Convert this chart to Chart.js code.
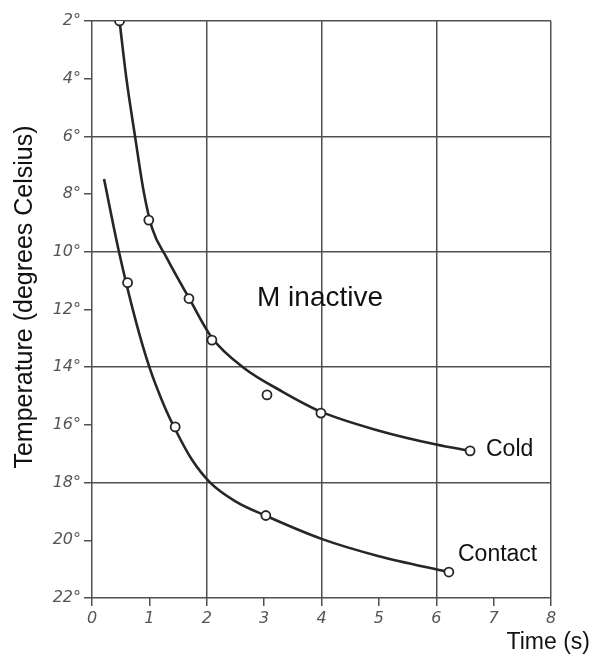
<!DOCTYPE html>
<html>
<head>
<meta charset="utf-8">
<script src="https://cdn.jsdelivr.net/npm/chart.js@4/dist/chart.umd.min.js"></script>
<style>
  html, body { margin: 0; padding: 0; background: #fff; }
  #wrap { width: 591px; height: 657px; }
</style>
</head>
<body>
<div id="wrap"><canvas id="myChart" width="591" height="657"></canvas></div>
<script>
// measured points (open circles)
const coldTime = [0.48, 0.99, 1.69, 2.09, 3.05, 3.99, 6.59];
const coldTemp = [2.0, 8.9, 11.62, 13.06, 14.96, 15.59, 16.9];
const contactTime = [0.62, 1.45, 3.03, 6.22];
const contactTemp = [11.07, 16.07, 19.14, 21.1];

// hand-fitted curves
const coldCurveTime = [0.48, 0.6, 0.75, 0.9, 1.05, 1.3, 1.69, 2.09, 2.63, 3.33, 4.0, 5.0, 6.0, 6.59];
const coldCurveTemp = [2.0, 4.0, 6.0, 7.9, 9.2, 10.2, 11.6, 12.98, 14.0, 14.86, 15.55, 16.2, 16.68, 16.9];
const contactCurveTime = [0.21, 0.47, 0.75, 1.0, 1.25, 1.45, 1.74, 2.06, 2.5, 3.03, 4.0, 5.0, 6.22];
const contactCurveTemp = [7.48, 10.0, 12.3, 14.0, 15.3, 16.15, 17.2, 18.0, 18.65, 19.15, 19.95, 20.55, 21.1];

const xTicks = [0, 1, 2, 3, 4, 5, 6, 7, 8];
const yTicks = [2, 4, 6, 8, 10, 12, 14, 16, 18, 20, 22];

const toXY = (xs, ys) => xs.map((x, i) => ({ x: x, y: ys[i] }));

const INK = '#262626';
const GRID = '#505050';
const tickFont = { family: 'DejaVu Sans', style: 'italic', size: 16 };

const textPlugin = {
    id: 'texts',
    afterDraw(chart) {
        const c = chart.ctx;
        c.save();
        c.fillStyle = '#111';
        c.textBaseline = 'middle';
        c.textAlign = 'left';
        c.font = '28px "Liberation Sans", Arial, sans-serif';
        c.fillText('M inactive', 257, 298);
        c.font = '23px "Liberation Sans", Arial, sans-serif';
        c.fillText('Cold', 486, 450);
        c.fillText('Contact', 458, 555);
        c.textAlign = 'right';
        c.fillText('Time (s)', 590, 643);
        c.translate(25, 297);
        c.rotate(-Math.PI / 2);
        c.textAlign = 'center';
        c.font = '25px "Liberation Sans", Arial, sans-serif';
        c.fillText('Temperature (degrees Celsius)', 0, 0);
        c.restore();
    }
};

const curve = (xs, ys) => ({
    data: toXY(xs, ys),
    showLine: true,
    borderColor: INK,
    borderWidth: 2.6,
    pointRadius: 0,
    cubicInterpolationMode: 'monotone',
    order: 2
});

const markers = (xs, ys) => ({
    data: toXY(xs, ys),
    pointRadius: 4.5,
    pointBackgroundColor: '#fff',
    pointBorderColor: INK,
    pointBorderWidth: 1.8,
    order: 1
});

new Chart(document.getElementById('myChart'), {
    type: 'scatter',
    data: {
        datasets: [
            curve(coldCurveTime, coldCurveTemp),
            curve(contactCurveTime, contactCurveTemp),
            markers(coldTime, coldTemp),
            markers(contactTime, contactTemp)
        ]
    },
    options: {
        responsive: false,
        animation: false,
        layout: { padding: { top: 21, right: 40, left: 0, bottom: 0 } },
        scales: {
            x: {
                type: 'linear',
                min: 0,
                max: 8,
                afterBuildTicks: (s) => { s.ticks = xTicks.map(v => ({ value: v })); },
                afterFit: (s) => { s.height = 59; },
                border: { display: false },
                grid: {
                    color: (ctx) => (ctx.tick && ctx.tick.value % 2 === 0) ? GRID : 'rgba(0,0,0,0)',
                    tickColor: GRID,
                    lineWidth: 1.5,
                    tickLength: 8,
                    drawTicks: true
                },
                ticks: {
                    color: '#555',
                    font: tickFont,
                    padding: 3,
                    callback: (v) => v
                }
            },
            y: {
                type: 'linear',
                reverse: true,
                min: 2,
                max: 22,
                afterBuildTicks: (s) => { s.ticks = yTicks.map(v => ({ value: v })); },
                afterFit: (s) => { s.width = 92; },
                border: { display: false },
                grid: {
                    color: (ctx) => (ctx.tick && (ctx.tick.value - 2) % 4 === 0) ? GRID : 'rgba(0,0,0,0)',
                    tickColor: GRID,
                    lineWidth: 1.5,
                    tickLength: 8,
                    drawTicks: true
                },
                ticks: {
                    color: '#555',
                    font: tickFont,
                    padding: 3,
                    callback: (v) => v + '°'
                }
            }
        },
        plugins: {
            legend: { display: false },
            tooltip: { enabled: false }
        }
    },
    plugins: [textPlugin]
});
</script>
</body>
</html>
